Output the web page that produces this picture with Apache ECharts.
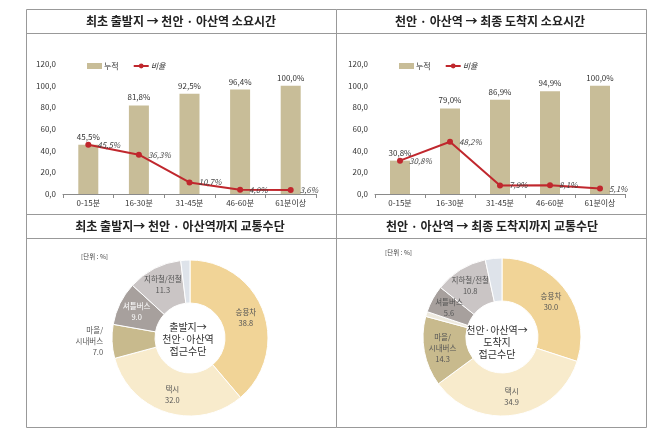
<!DOCTYPE html>
<html><head><meta charset="utf-8">
<script src="https://cdn.jsdelivr.net/npm/echarts@6/dist/echarts.min.js"></script>
<style>html,body{margin:0;padding:0;background:#fff}#c{width:664px;height:434px}</style>
</head><body><div id="c"></div>
<script>
// ---- data ----
const panelTitles = ['최초 출발지 → 천안 · 아산역 소요시간', '천안 · 아산역 → 최종 도착지 소요시간',
  '최초 출발지→ 천안 · 아산역까지 교통수단', '천안 · 아산역 → 최종 도착지까지 교통수단'];
const timeCategories = ['0-15분', '16-30분', '31-45분', '46-60분', '61분이상'];
const cumLeft = [45.5, 81.8, 92.5, 96.4, 100.0];
const rateLeft = [45.5, 36.3, 10.7, 4.0, 3.6];
const cumRight = [30.8, 79.0, 86.9, 94.9, 100.0];
const rateRight = [30.8, 48.2, 7.9, 8.1, 5.1];
const legendNames = ['누적', '비율'];
const yMin = 0, yMax = 120, yStep = 20;
const modeNamesLeft = ['승용차', '택시', '마을/시내버스', '셔틀버스', '지하철/전철', '기타'];
const modeLeft = [38.8, 32.0, 7.0, 9.0, 11.3, 1.9];
const modeNamesRight = ['승용차', '택시', '마을/시내버스', '기타A', '셔틀버스', '지하철/전철', '기타'];
const modeRight = [30.0, 34.9, 14.3, 1.0, 5.6, 10.8, 3.4];
const centerTextLeft = '출발지→\n천안·아산역\n접근수단';
const centerTextRight = '천안·아산역→\n도착지\n접근수단';
const unitText = '[단위 : %]';

// ---- styles ----
const FONT = '"Noto Sans CJK KR", "Noto Sans", sans-serif';
const barColor = '#C8BD98';
const lineColor = '#C0272D';
const sliceColors = {
  '승용차': '#F1D497', '택시': '#F8EBCC', '마을/시내버스': '#C8BA8D',
  '셔틀버스': '#A7A09D', '지하철/전철': '#CAC5C5', '기타': '#DEE3EA', '기타A': '#EEEADF'
};
const fmtComma = v => v.toFixed(1).replace('.', ',');

const grids = [
  {left: 63, top: 64, width: 253, height: 130},
  {left: 375, top: 64, width: 250, height: 130}
];
function xAxis(i) {
  return {type: 'category', gridIndex: i, data: timeCategories,
    axisLine: {lineStyle: {color: '#8a8a8a', width: 1}},
    axisTick: {show: true, length: 4, lineStyle: {color: '#8a8a8a'}},
    axisLabel: {fontSize: 8, color: '#333', margin: 5, fontFamily: FONT}};
}
function yAxis(i) {
  return {type: 'value', gridIndex: i, min: yMin, max: yMax, interval: yStep,
    axisLine: {show: false}, axisTick: {show: false}, splitLine: {show: false},
    axisLabel: {fontSize: 8, color: '#333', margin: 7, fontFamily: FONT, formatter: v => fmtComma(v)}};
}
function barSeries(i, data) {
  return {type: 'bar', name: legendNames[0], xAxisIndex: i, yAxisIndex: i, data: data, barWidth: 20,
    itemStyle: {color: barColor},
    label: {show: true, position: 'top', distance: 4, fontSize: 8, color: '#333', fontFamily: FONT,
      formatter: p => fmtComma(p.value) + '%'}};
}
function lineSeries(i, data) {
  return {type: 'line', name: legendNames[1], xAxisIndex: i, yAxisIndex: i, data: data,
    symbol: 'circle', symbolSize: 6, lineStyle: {color: lineColor, width: 2},
    itemStyle: {color: lineColor},
    label: {show: true, position: 'right', distance: 6, fontSize: 8, color: '#444', fontStyle: 'italic', fontFamily: FONT,
      formatter: p => fmtComma(p.value) + '%'}};
}
function legend(left) {
  return {left: left, top: 62, itemWidth: 15, itemHeight: 6, itemGap: 14, padding: 0,
    textStyle: {fontSize: 8, color: '#333', fontFamily: FONT, padding: [0, 0, 0, -3]},
    data: [{name: legendNames[0], icon: 'rect'}, {name: legendNames[1], textStyle: {fontStyle: 'italic'}}]};
}
function pieData(names, values, whiteLabel, outsideName) {
  return names.map((n, k) => {
    const d = {name: n, value: values[k], itemStyle: {color: sliceColors[n]}};
    if (n.indexOf('기타') === 0) d.label = {show: false};
    if (n === whiteLabel) d.label = {color: '#fff'};
    if (n === outsideName) {
      d.label = {position: 'outside', alignTo: 'none', color: '#555'};
      d.labelLine = {show: false, length: 2, length2: 2};
    }
    return d;
  });
}
function pieSeries(center, radius, data) {
  return {type: 'pie', center: center, radius: radius, startAngle: 90, clockwise: true,
    avoidLabelOverlap: false, silent: true,
    itemStyle: {borderColor: '#fff', borderWidth: 1},
    label: {show: true, position: 'inside', fontSize: 7.5, lineHeight: 11, color: '#555', fontFamily: FONT,
      formatter: p => p.name.replace('마을/', '마을/\n') + '\n' + p.value.toFixed(1)},
    labelLine: {show: false},
    data: data};
}

const titlePos = [[181, 21], [490, 21], [180, 226], [492, 226]];
const graphics = [
  {type: 'rect', shape: {x: 26.5, y: 9.5, width: 620, height: 418}, style: {fill: 'none', stroke: '#999', lineWidth: 1}, silent: true},
  {type: 'line', shape: {x1: 336.5, y1: 9.5, x2: 336.5, y2: 427.5}, style: {stroke: '#999', lineWidth: 1}},
  {type: 'line', shape: {x1: 26.5, y1: 33.5, x2: 646.5, y2: 33.5}, style: {stroke: '#999', lineWidth: 1}},
  {type: 'line', shape: {x1: 26.5, y1: 214.5, x2: 646.5, y2: 214.5}, style: {stroke: '#999', lineWidth: 1}},
  {type: 'line', shape: {x1: 26.5, y1: 238.5, x2: 646.5, y2: 238.5}, style: {stroke: '#999', lineWidth: 1}}
];
panelTitles.forEach((t, k) => graphics.push({type: 'text', x: titlePos[k][0], y: titlePos[k][1],
  style: {text: t, fontSize: 12, fontWeight: 'bold', fill: '#222', fontFamily: FONT, align: 'center', verticalAlign: 'middle'}}));
graphics.push({type: 'text', x: 188, y: 339, style: {text: centerTextLeft, fontSize: 10, lineHeight: 12, fill: '#333', fontFamily: FONT, align: 'center', verticalAlign: 'middle'}});
graphics.push({type: 'text', x: 497, y: 342, style: {text: centerTextRight, fontSize: 10, lineHeight: 12, fill: '#333', fontFamily: FONT, align: 'center', verticalAlign: 'middle'}});
graphics.push({type: 'text', x: 81, y: 257, style: {text: unitText, fontSize: 6.5, fill: '#444', fontFamily: FONT, verticalAlign: 'middle'}});
graphics.push({type: 'text', x: 385, y: 253, style: {text: unitText, fontSize: 6.5, fill: '#444', fontFamily: FONT, verticalAlign: 'middle'}});

const chart = echarts.init(document.getElementById('c'), null, {renderer: 'canvas'});
chart.setOption({
  animation: false,
  backgroundColor: '#fff',
  textStyle: {fontFamily: FONT},
  grid: grids,
  xAxis: [xAxis(0), xAxis(1)],
  yAxis: [yAxis(0), yAxis(1)],
  legend: [legend(87), legend(399)],
  series: [
    barSeries(0, cumLeft), lineSeries(0, rateLeft),
    barSeries(1, cumRight), lineSeries(1, rateRight),
    pieSeries([190, 338], [35, 78], pieData(modeNamesLeft, modeLeft, '셔틀버스', '마을/시내버스')),
    pieSeries([502, 337], [36, 79], pieData(modeNamesRight, modeRight, null, null))
  ],
  graphic: graphics
});
</script></body></html>
